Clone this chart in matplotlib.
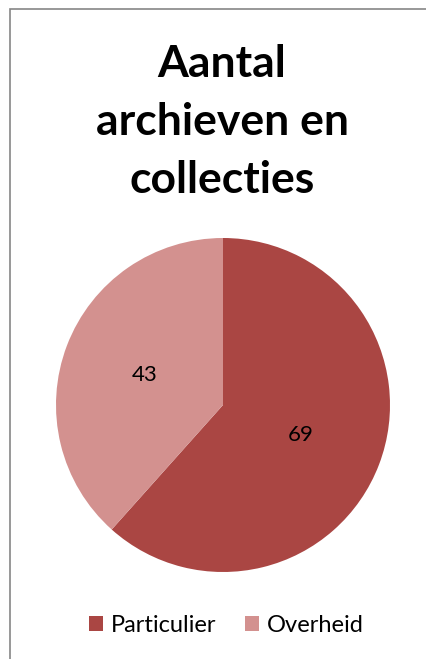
import matplotlib.pyplot as plt
from matplotlib.patches import Rectangle, Patch

# data
categories = ['Particulier', 'Overheid']
values = [69, 43]
colors = ['#AA4643', '#D3918F']
title = 'Aantal\narchieven en\ncollecties'

W, H = 427, 659
fig = plt.figure(figsize=(W / 100, H / 100), dpi=100)
fig.patch.set_facecolor('white')

# chart border (only the top and left edges show in the crop)
fig.patches.append(Rectangle((10 / W, -0.1), 1.2, (H - 9) / H + 0.1,
                             transform=fig.transFigure, fill=False,
                             edgecolor='#868686', linewidth=1.2))

fig.text(0.52, (H - 122) / H, title, ha='center', va='center',
         fontsize=32, fontweight='bold', family='Lato', linespacing=1.54)

ax = fig.add_axes([(223 - 167) / W, (H - 572) / H, 334 / W, 334 / H])
total = sum(values)
wedges, texts, autotexts = ax.pie(
    values, colors=colors, startangle=90, counterclock=False,
    autopct=lambda p: f'{round(p * total / 100)}', pctdistance=0.5,
    wedgeprops=dict(linewidth=0),
    textprops=dict(fontsize=16, family='Lato', color='black'))
ax.set_xlim(-1, 1)
ax.set_ylim(-1, 1)
ax.set_aspect('equal')

handles = [Patch(facecolor=c, label=l) for c, l in zip(colors, categories)]
fig.legend(handles=handles, loc='center', bbox_to_anchor=(0.53, (H - 625) / H),
           ncol=2, frameon=False, prop=dict(family='Lato', size=17),
           handlelength=0.6, handleheight=0.6, handletextpad=0.35,
           columnspacing=1.2)

fig.savefig('out.png', dpi=100)
